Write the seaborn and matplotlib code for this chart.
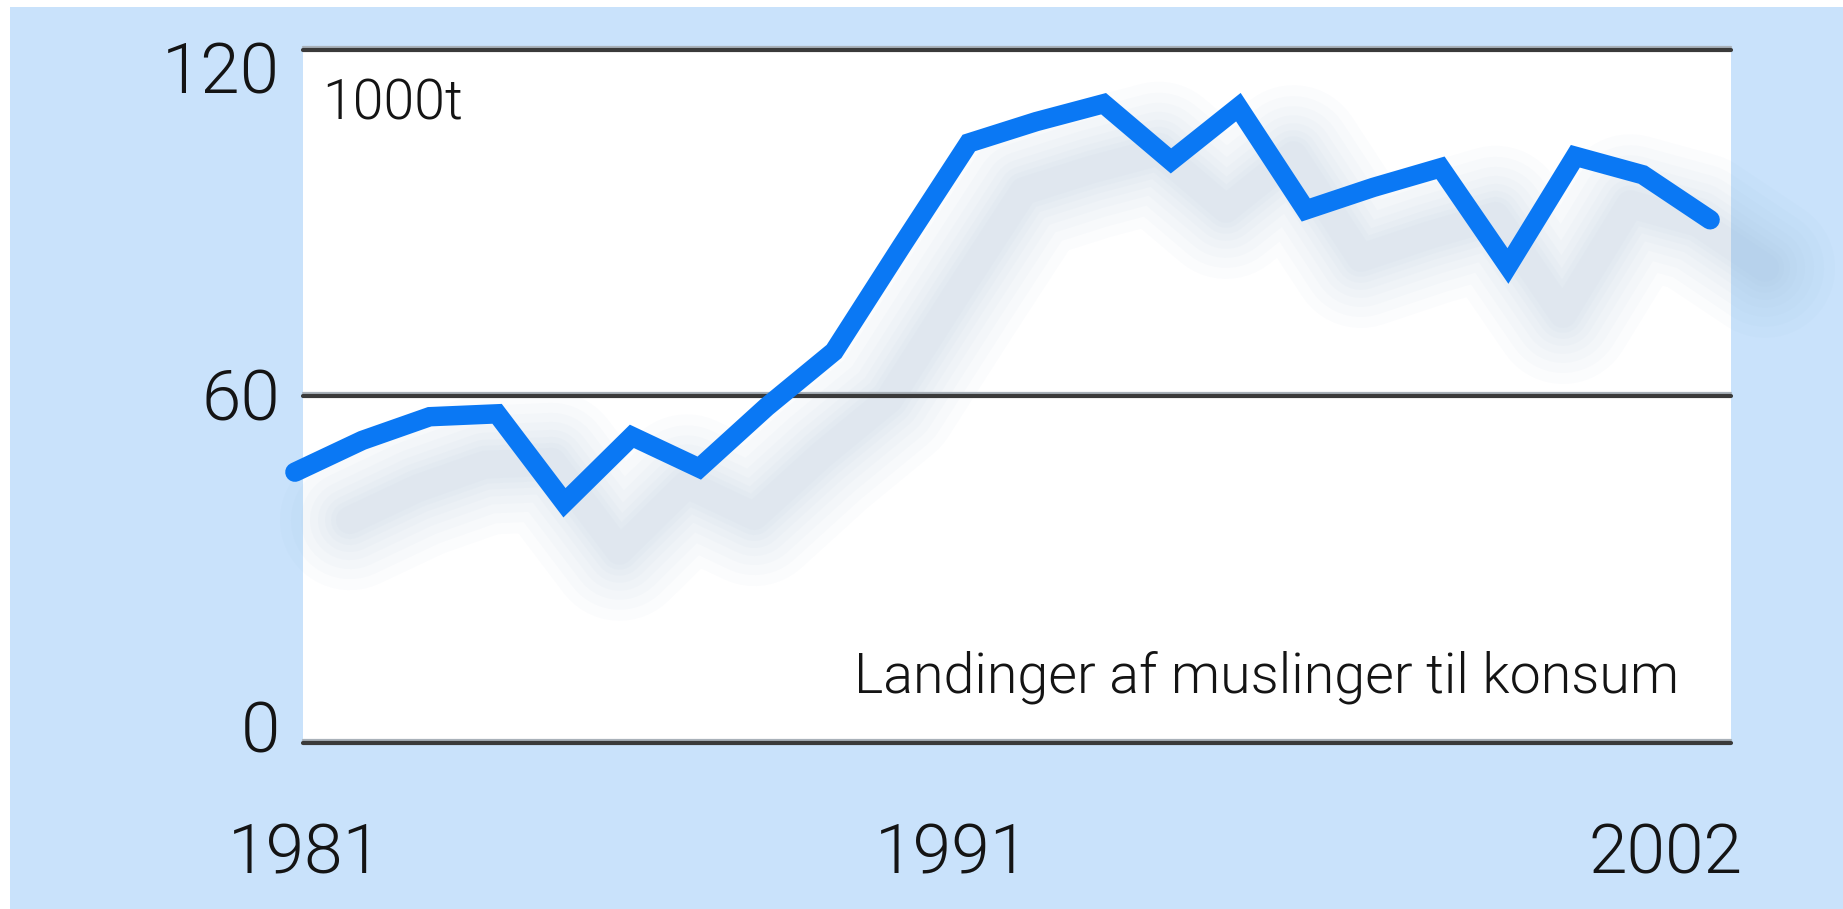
import matplotlib
matplotlib.use('Agg')
import matplotlib.pyplot as plt
import seaborn as sns
import pandas as pd
from matplotlib import font_manager
from matplotlib.patches import Rectangle
from matplotlib.transforms import ScaledTranslation

# values (1000 t)
years = list(range(1981, 2003))
landings = [46.9, 52.4, 56.5, 57.0, 41.6, 53.1, 47.6, 58.2, 67.8, 86.0, 103.9,
            107.6, 110.7, 100.8, 110.1, 92.3, 96.2, 99.6, 82.6, 101.6, 98.4, 90.6]
y_ticks = [0, 60, 120]
x_tick_years = [1981, 1991, 2002]
unit_label = '1000t'
caption = 'Landinger af muslinger til konsum'

df = pd.DataFrame({'year': years, 'landings': landings})

sns.set_theme(style='white')
# light (300) font if there is one
light = [f.name for f in font_manager.fontManager.ttflist
         if str(f.weight) in ('300', 'light') and f.style == 'normal']
font = 'Liberation Sans'
weight = 'normal'
for cand in ['Roboto', 'Lato', 'Open Sans']:
    if cand in light:
        font, weight = cand, 300
        break
plt.rcParams['font.family'] = [font, 'DejaVu Sans']
plt.rcParams['font.weight'] = weight

W, H = 1843, 909
fig = plt.figure(figsize=(W / 100, H / 100), dpi=100, facecolor='white')
fig.patches.append(Rectangle((10 / W, 0), 1, 1 - 7 / H, transform=fig.transFigure,
                             facecolor='#c9e2fb', edgecolor='none', zorder=-1))

ax = fig.add_axes([303 / W, (H - 743) / H, 1428 / W, 693 / H])
ax.set_facecolor('white')

# soft drop shadow under the line
shadow = ax.transData + ScaledTranslation(0.55, -0.48, fig.dpi_scale_trans)
for w in [140, 118, 98, 80, 64, 50, 38, 28]:
    ax.plot(years, landings, lw=w * 0.72, color='#86a6cf', alpha=0.032,
            transform=shadow, clip_on=False, solid_capstyle='round',
            solid_joinstyle='round', zorder=1)

# grid lines with light upper edge
edge = ax.get_yaxis_transform() + ScaledTranslation(0, 0.03, fig.dpi_scale_trans)
for v in y_ticks:
    ax.plot([0, 1], [v, v], transform=edge, color='#a9b1b9', lw=1.6,
            clip_on=False, zorder=2)
    ax.axhline(v, color='#3a3a3a', lw=3, clip_on=False, zorder=2)

sns.lineplot(data=df, x='year', y='landings', ax=ax, color='#0a78f4', lw=14,
             errorbar=None, clip_on=False, solid_capstyle='round',
             solid_joinstyle='miter', zorder=3)

ax.set_xlim(1981.12, 2002.31)
ax.set_ylim(0, 120)
ax.set_xticks([])
ax.set_yticks([])
ax.set_xlabel('')
ax.set_ylabel('')
sns.despine(ax=ax, left=True, bottom=True, top=True, right=True)

txt = '#141414'
for v, dy in zip(y_ticks, [-7, -17, -31]):
    ax.annotate(str(v), xy=(0, v), xycoords=ax.get_yaxis_transform(),
                xytext=(-16.5, dy), textcoords='offset points',
                ha='right', va='baseline', fontsize=51, color=txt)

for yr, dx in zip(x_tick_years, [7, -12, -32]):
    ax.annotate(str(yr), xy=(yr, 0), xycoords=ax.get_xaxis_transform(),
                xytext=(dx, -93.6), textcoords='offset points',
                ha='center', va='baseline', fontsize=50, color=txt,
                annotation_clip=False)

ax.annotate(unit_label, xy=(0, 1), xycoords='axes fraction', xytext=(14, -50),
            textcoords='offset points', ha='left', va='baseline',
            fontsize=40, color=txt)
ax.annotate(caption, xy=(1, 0), xycoords='axes fraction', xytext=(-37, 36),
            textcoords='offset points', ha='right', va='baseline',
            fontsize=40, color=txt)

fig.savefig('out.png', dpi=100)
